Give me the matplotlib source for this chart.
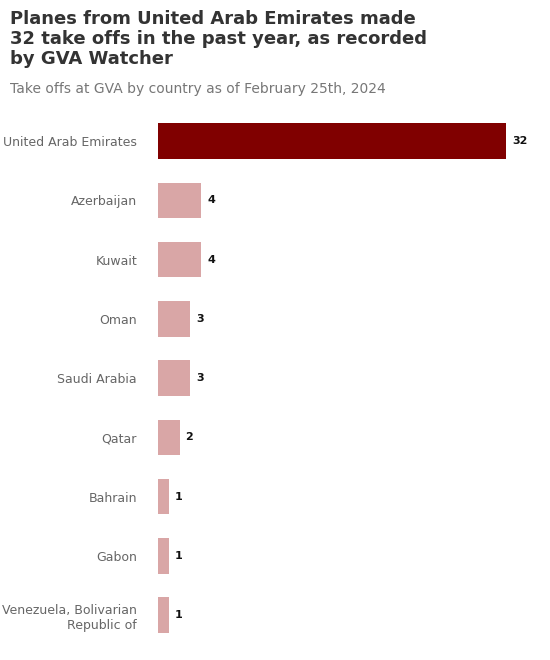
import matplotlib
matplotlib.use("Agg")
import matplotlib.pyplot as plt

countries = ["United Arab Emirates", "Azerbaijan", "Kuwait", "Oman", "Saudi Arabia",
             "Qatar", "Bahrain", "Gabon", "Venezuela, Bolivarian\nRepublic of"]
values = [32, 4, 4, 3, 3, 2, 1, 1, 1]
colors = ["#800000"] + ["#d9a6a6"] * 8

fig = plt.figure(figsize=(5.5, 6.6), dpi=100)
ax = fig.add_axes([0.287, 0.023, 0.633, 0.808])
y = list(range(len(countries)))
ax.barh(y, values, height=0.6, color=colors)
ax.set_ylim(len(countries) - 0.5, -0.5)
ax.set_xlim(0, 32)
ax.set_yticks(y)
ax.set_yticklabels(countries, fontsize=9, color="#666666")
ax.tick_params(axis="y", length=0, pad=15)
ax.set_xticks([])
for s in ax.spines.values():
    s.set_visible(False)
for yi, v in zip(y, values):
    ax.text(v + 0.55, yi, str(v), va="center", ha="left", fontsize=8, fontweight="bold", color="#111111")

fig.text(0.018, 0.985, "Planes from United Arab Emirates made\n32 take offs in the past year, as recorded\nby GVA Watcher",
         ha="left", va="top", fontsize=13, fontweight="bold", color="#333333", linespacing=1.15)
fig.text(0.018, 0.875, "Take offs at GVA by country as of February 25th, 2024",
         ha="left", va="top", fontsize=10, color="#777777")
fig.savefig("out.png", dpi=100)
